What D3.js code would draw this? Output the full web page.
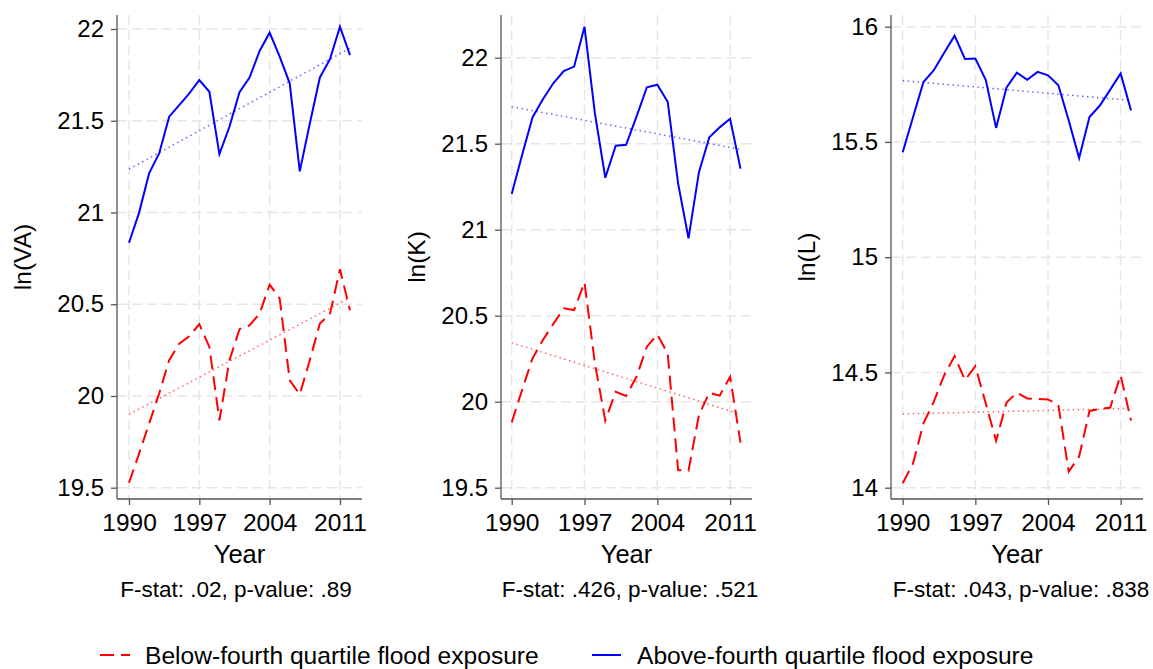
<!DOCTYPE html>
<html>
<head>
<meta charset="utf-8">
<script src="https://cdn.jsdelivr.net/npm/d3@7"></script>
<style>
  html, body { margin: 0; padding: 0; background: #fff; }
  svg { display: block; font-family: "Liberation Sans", Arial, Helvetica, sans-serif; }
</style>
</head>
<body>
<svg id="chart" width="1153" height="669"></svg>
<script>
// ---------------- DATA ----------------
const years = [1990,1991,1992,1993,1994,1995,1996,1997,1998,1999,2000,2001,2002,2003,2004,2005,2006,2007,2008,2009,2010,2011,2012];
const xTickYears = [1990, 1997, 2004, 2011];

const vaAbove = [20.835,20.998,21.213,21.322,21.522,21.585,21.649,21.722,21.658,21.318,21.467,21.655,21.735,21.880,21.980,21.849,21.704,21.224,21.485,21.736,21.835,22.013,21.858];
const vaBelow = [19.527,19.685,19.849,20.013,20.195,20.285,20.325,20.391,20.267,19.867,20.195,20.364,20.385,20.449,20.607,20.531,20.085,20.009,20.195,20.395,20.445,20.691,20.467];
const vaTrendAbove = [21.236, 21.895];
const vaTrendBelow = [19.900, 20.535];
const vaTicks = [19.5, 20, 20.5, 21, 21.5, 22];

const kAbove = [21.207,21.434,21.653,21.758,21.851,21.922,21.948,22.180,21.676,21.302,21.488,21.494,21.657,21.828,21.843,21.744,21.269,20.950,21.333,21.537,21.595,21.645,21.355];
const kBelow = [19.880,20.068,20.252,20.359,20.452,20.543,20.533,20.694,20.223,19.890,20.058,20.033,20.145,20.320,20.391,20.281,19.603,19.599,19.922,20.052,20.035,20.145,19.762];
const kTrendAbove = [21.715, 21.467];
const kTrendBelow = [20.343, 19.928];
const kTicks = [19.5, 20, 20.5, 21, 21.5, 22];

const lAbove = [15.455,15.608,15.760,15.811,15.887,15.961,15.860,15.862,15.770,15.561,15.735,15.801,15.770,15.804,15.789,15.746,15.593,15.430,15.608,15.658,15.727,15.797,15.637];
const lBelow = [14.019,14.106,14.279,14.373,14.488,14.571,14.467,14.527,14.366,14.204,14.369,14.412,14.387,14.385,14.383,14.359,14.070,14.135,14.333,14.341,14.348,14.488,14.291];
const lTrendAbove = [15.766, 15.680];
const lTrendBelow = [14.320, 14.344];
const lTicks = [14, 14.5, 15, 15.5, 16];

const yTitles = ["ln(VA)", "ln(K)", "ln(L)"];
const xTitle = "Year";
const notes = ["F-stat: .02, p-value: .89", "F-stat: .426, p-value: .521", "F-stat: .043, p-value: .838"];
const legendLabels = ["Below-fourth quartile flood exposure", "Above-fourth quartile flood exposure"];

// ---------------- LAYOUT ----------------
const panels = [
  { above: vaAbove, below: vaBelow, tA: vaTrendAbove, tB: vaTrendBelow, ticks: vaTicks, title: yTitles[0], note: notes[0],
    left: 117, right: 362, x0: 129, x1: 350, yDom: [19.5, 22], yRange: [487.7, 29], titleX: 22, noteX: 236 },
  { above: kAbove, below: kBelow, tA: kTrendAbove, tB: kTrendBelow, ticks: kTicks, title: yTitles[1], note: notes[1],
    left: 501, right: 752, x0: 511.7, x1: 740.5, yDom: [19.5, 22], yRange: [487.7, 57.7], titleX: 416, noteX: 630 },
  { above: lAbove, below: lBelow, tA: lTrendAbove, tB: lTrendBelow, ticks: lTicks, title: yTitles[2], note: notes[2],
    left: 891, right: 1143, x0: 902.7, x1: 1131, yDom: [14, 16], yRange: [487.7, 26.7], titleX: 806, noteX: 1021 }
];
const plotTop = 15, plotBottom = 499;
const BLUE = "#0000ff", RED = "#ff0000";
const GRID = "#e6e6e6", AXIS = "#555";

const svg = d3.select("#chart");

panels.forEach(p => {
  const x = d3.scaleLinear().domain([years[0], years[years.length - 1]]).range([p.x0, p.x1]);
  const y = d3.scaleLinear().domain(p.yDom).range(p.yRange);
  const g = svg.append("g");

  // grid
  g.selectAll(".hg").data(p.ticks).join("line")
    .attr("x1", p.left).attr("x2", p.right)
    .attr("y1", d => y(d)).attr("y2", d => y(d))
    .attr("stroke", GRID).attr("stroke-width", 1.5).attr("stroke-dasharray", "10,5");
  g.selectAll(".vg").data(xTickYears).join("line")
    .attr("x1", d => x(d)).attr("x2", d => x(d))
    .attr("y1", plotTop).attr("y2", plotBottom)
    .attr("stroke", GRID).attr("stroke-width", 1.5).attr("stroke-dasharray", "10,5");

  // axes
  const ya = g.append("g").attr("transform", `translate(${p.left},0)`)
    .call(d3.axisLeft(y).tickValues(p.ticks).tickSize(6).tickPadding(7).tickFormat(d => String(d)));
  ya.select(".domain").remove();
  ya.selectAll("line").attr("stroke", AXIS).attr("stroke-width", 1.3);
  ya.selectAll("text").attr("font-size", 24).attr("fill", "#000");
  ya.attr("font-family", null);

  const xa = g.append("g").attr("transform", `translate(0,${plotBottom})`)
    .call(d3.axisBottom(x).tickValues(xTickYears).tickSize(6).tickPadding(9).tickFormat(d3.format("d")));
  xa.select(".domain").remove();
  xa.selectAll("line").attr("stroke", AXIS).attr("stroke-width", 1.3);
  xa.selectAll("text").attr("font-size", 24.5).attr("fill", "#000");
  xa.attr("font-family", null);

  g.append("line").attr("x1", p.left).attr("x2", p.left).attr("y1", plotTop).attr("y2", plotBottom)
    .attr("stroke", AXIS).attr("stroke-width", 1.3);
  g.append("line").attr("x1", p.left).attr("x2", p.right).attr("y1", plotBottom).attr("y2", plotBottom)
    .attr("stroke", AXIS).attr("stroke-width", 1.3);

  // trend lines
  const tl = d3.line().x(d => x(d[0])).y(d => y(d[1]));
  const ends = [years[0], years[years.length - 1]];
  g.append("path").attr("d", tl(ends.map((yr, i) => [yr, p.tB[i]])))
    .attr("fill", "none").attr("stroke", RED).attr("stroke-opacity", 0.6)
    .attr("stroke-width", 1.5).attr("stroke-dasharray", "1.5,3.5");
  g.append("path").attr("d", tl(ends.map((yr, i) => [yr, p.tA[i]])))
    .attr("fill", "none").attr("stroke", BLUE).attr("stroke-opacity", 0.6)
    .attr("stroke-width", 1.5).attr("stroke-dasharray", "1.5,3.5");

  // series
  const line = d3.line().x((d, i) => x(years[i])).y(d => y(d));
  g.append("path").attr("d", line(p.below)).attr("fill", "none")
    .attr("stroke", RED).attr("stroke-width", 2).attr("stroke-dasharray", "14,7");
  g.append("path").attr("d", line(p.above)).attr("fill", "none")
    .attr("stroke", BLUE).attr("stroke-width", 2);

  // titles
  g.append("text").attr("transform", `translate(${p.titleX},${(plotTop + plotBottom) / 2}) rotate(-90)`)
    .attr("text-anchor", "middle").attr("dominant-baseline", "central")
    .attr("font-size", 24.5).text(p.title);
  g.append("text").attr("x", (p.left + p.right) / 2).attr("y", 563)
    .attr("text-anchor", "middle").attr("font-size", 25.5).text(xTitle);
  g.append("text").attr("x", p.noteX).attr("y", 597)
    .attr("text-anchor", "middle").attr("font-size", 22.5).text(p.note);
});

// legend
const leg = svg.append("g");
const legItems = [
  { color: RED, dash: "14,7", x1: 100, x2: 130, tx: 145, label: legendLabels[0] },
  { color: BLUE, dash: null, x1: 592, x2: 621, tx: 637, label: legendLabels[1] }
];
legItems.forEach(it => {
  leg.append("line").attr("x1", it.x1).attr("x2", it.x2).attr("y1", 655).attr("y2", 655)
    .attr("stroke", it.color).attr("stroke-width", 2).attr("stroke-dasharray", it.dash);
  leg.append("text").attr("x", it.tx).attr("y", 655).attr("dominant-baseline", "central")
    .attr("font-size", 24.6).text(it.label);
});
</script>
</body>
</html>
